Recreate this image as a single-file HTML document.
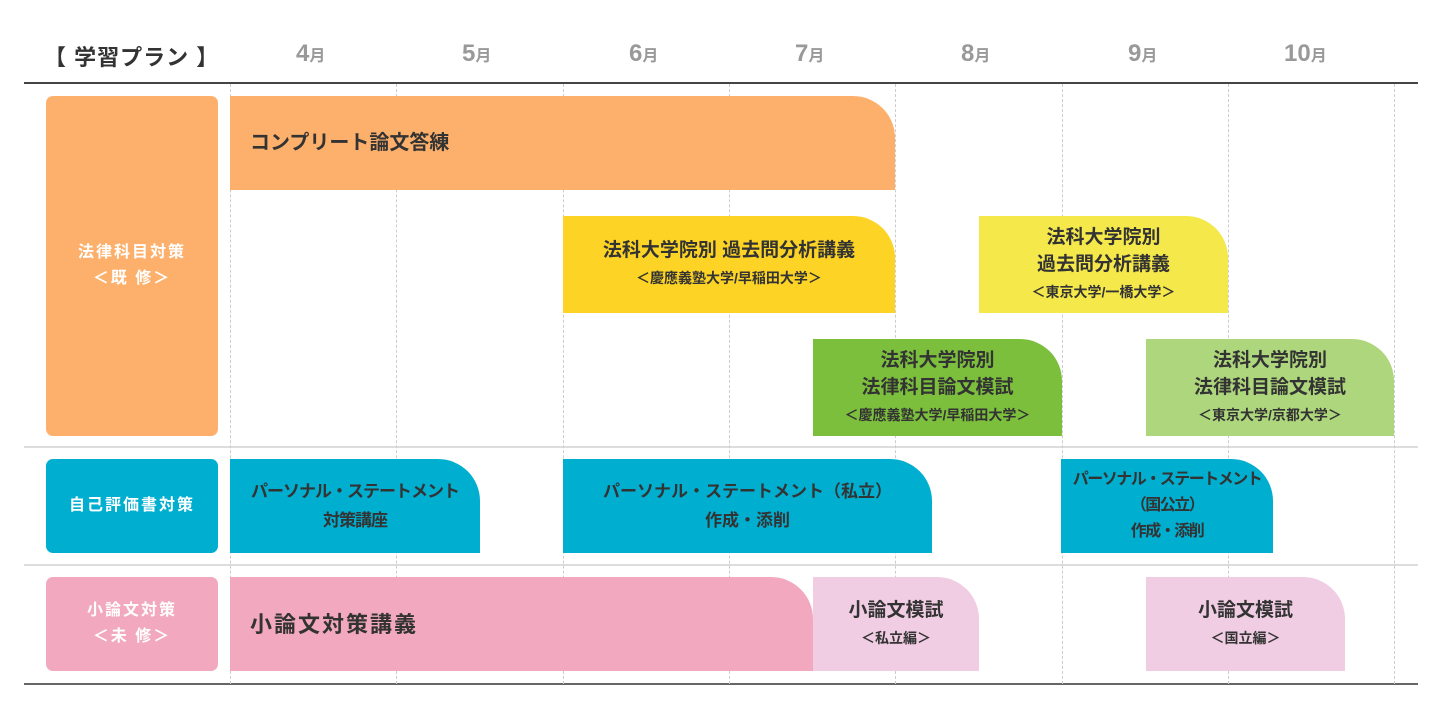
<!DOCTYPE html>
<html><head><meta charset="utf-8"><style>
*{margin:0;padding:0;box-sizing:border-box}
body{width:1440px;height:720px;background:#fff;position:relative;overflow:hidden;font-family:"Liberation Sans","Noto Sans CJK JP",sans-serif;color:#333}
.a{position:absolute}
.h{position:absolute;top:40px;font-size:24px;font-weight:bold;color:#999}
.h small{font-size:16px}
.v{position:absolute;top:84px;height:600px;border-left:1px dashed #ccc}
.hl{position:absolute;left:24px;width:1394px}
.lab{position:absolute;left:46px;width:172px;border-radius:7px;color:#fff;font-weight:bold;font-size:16px;display:flex;align-items:center;justify-content:center;text-align:center;line-height:26px;letter-spacing:2px}
.b{position:absolute;border-top-right-radius:42px;display:flex;flex-direction:column;align-items:center;justify-content:center;text-align:center;font-weight:bold;font-size:19px;line-height:27px;color:#333}
.b .s{font-size:14px;line-height:28px}
</style></head><body>
<div class="a" style="left:44px;top:40px;font-size:22px;font-weight:bold;letter-spacing:1px;color:#333">【 学習プラン 】</div>
<div class="h" style="left:296px">4<small>月</small></div>
<div class="h" style="left:462px">5<small>月</small></div>
<div class="h" style="left:629px">6<small>月</small></div>
<div class="h" style="left:795px">7<small>月</small></div>
<div class="h" style="left:961px">8<small>月</small></div>
<div class="h" style="left:1128px">9<small>月</small></div>
<div class="h" style="left:1284px">10<small>月</small></div>
<div class="hl" style="top:82px;border-top:2px solid #444"></div>
<div class="hl" style="top:446px;border-top:2px solid #ddd"></div>
<div class="hl" style="top:564px;border-top:2px solid #ddd"></div>
<div class="hl" style="top:683px;border-top:2px solid #666"></div>
<div class="v" style="left:230px"></div><div class="v" style="left:396px"></div><div class="v" style="left:563px"></div><div class="v" style="left:729px"></div><div class="v" style="left:895px"></div><div class="v" style="left:1062px"></div><div class="v" style="left:1228px"></div><div class="v" style="left:1394px"></div>

<div class="lab" style="top:96px;height:340px;background:#fdb06b">法律科目対策<br>＜既 修＞</div>
<div class="lab" style="top:459px;height:94px;background:#00afd0">自己評価書対策</div>
<div class="lab" style="top:577px;height:94px;background:#f2a8be">小論文対策<br>＜未 修＞</div>

<div class="b" style="left:230px;top:96px;width:665px;height:94px;background:#fdb06b;align-items:flex-start;padding-left:20px;font-size:20px">コンプリート論文答練</div>
<div class="b" style="left:563px;top:216px;width:332px;height:97px;background:#fdd425">法科大学院別 過去問分析講義<span class="s">＜慶應義塾大学/早稲田大学＞</span></div>
<div class="b" style="left:979px;top:216px;width:249px;height:97px;background:#f5e84a">法科大学院別<br>過去問分析講義<span class="s">＜東京大学/一橋大学＞</span></div>
<div class="b" style="left:813px;top:339px;width:249px;height:97px;background:#7bbf3d">法科大学院別<br>法律科目論文模試<span class="s">＜慶應義塾大学/早稲田大学＞</span></div>
<div class="b" style="left:1146px;top:339px;width:248px;height:97px;background:#aed67c">法科大学院別<br>法律科目論文模試<span class="s">＜東京大学/京都大学＞</span></div>

<div class="b" style="left:230px;top:459px;width:250px;height:94px;background:#00afd0;font-size:17px;line-height:29px;letter-spacing:-1px">パーソナル・ステートメント<br>対策講座</div>
<div class="b" style="left:563px;top:459px;width:369px;height:94px;background:#00afd0;font-size:17px;line-height:29px">パーソナル・ステートメント（私立）<br>作成・添削</div>
<div class="b" style="left:1061px;top:459px;width:212px;height:94px;background:#00afd0;font-size:16px;line-height:26px;letter-spacing:-1.5px">パーソナル・ステートメント<br>（国公立）<br>作成・添削</div>

<div class="b" style="left:230px;top:577px;width:583px;height:94px;background:#f2a8be;align-items:flex-start;padding-left:20px;font-size:22px;letter-spacing:2px">小論文対策講義</div>
<div class="b" style="left:813px;top:577px;width:166px;height:94px;background:#f0cde3">小論文模試<span class="s">＜私立編＞</span></div>
<div class="b" style="left:1146px;top:577px;width:199px;height:94px;background:#f0cde3">小論文模試<span class="s">＜国立編＞</span></div>
</body></html>
